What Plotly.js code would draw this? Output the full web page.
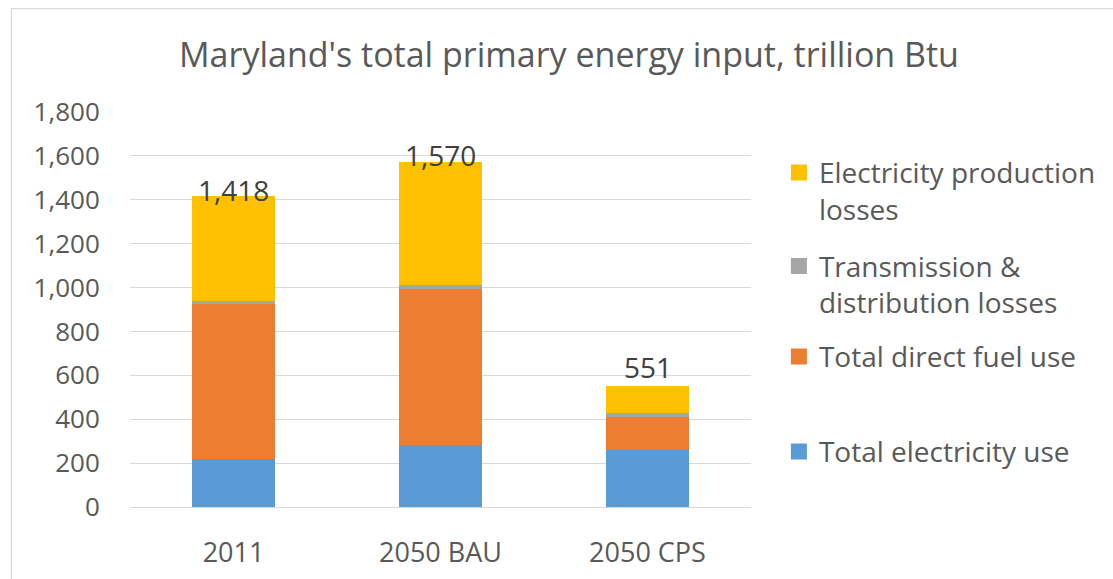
<!DOCTYPE html>
<html><head><meta charset="utf-8">
<script src="https://cdn.plot.ly/plotly-3.0.1.min.js"></script>
<style>html,body{margin:0;padding:0;background:#fff}#chart{width:1113px;height:579px}</style>
</head><body><div id="chart"></div>
<script>
const categories = ['2011', '2050 BAU', '2050 CPS'];
const totalElectricityUse = [219, 284, 261];
const totalDirectFuelUse = [706, 708, 147];
const transmissionLosses = [15, 21, 19];
const productionLosses = [478, 557, 124];
const totals = [1418, 1570, 551];
const seriesNames = ['Total electricity use', 'Total direct fuel use', 'Transmission &<br>distribution losses', 'Electricity production<br>losses'];
const yTickValues = [0, 200, 400, 600, 800, 1000, 1200, 1400, 1600, 1800];

const FONT = '"Open Sans", Lato, sans-serif';
const TXT = '#595959';
const colors = ['#5B9BD5', '#ED7D31', '#A5A5A5', '#FFC000'];
const seriesValues = [totalElectricityUse, totalDirectFuelUse, transmissionLosses, productionLosses];
const legendIds = ['legend4', 'legend3', 'legend2', 'legend'];

const barTraces = seriesValues.map((vals, i) => ({
  type: 'bar', x: categories, y: vals, name: seriesNames[i],
  marker: {color: colors[i]}, showlegend: false
}));
// legend-only entries (larger square swatches)
const legendTraces = seriesValues.map((vals, i) => ({
  type: 'scatter', mode: 'markers', x: [null], y: [null], name: seriesNames[i],
  marker: {color: colors[i], symbol: 'square', size: 16}, legend: legendIds[i], hoverinfo: 'skip'
}));

const labelShift = [6, 7, 19];
const annotations = categories.map((c, i) => ({
  x: i, y: totals[i], xref: 'x', yref: 'y', text: totals[i].toLocaleString('en-US'),
  showarrow: false, yanchor: 'middle', yshift: labelShift[i],
  font: {family: FONT, size: 28, color: '#404040'}
}));

const px2x = p => (p - 130) / 623;
const px2y = p => (507.3 - p) / 395;
function leg(cy) {
  return {x: px2x(781), y: px2y(cy), xanchor: 'left', yanchor: 'middle', valign: 'top',
    bgcolor: 'rgba(0,0,0,0)', font: {family: FONT, size: 28, color: TXT}};
}

const layout = {
  width: 1113, height: 579,
  margin: {l: 130, r: 360, t: 112, b: 71.7, pad: 0},
  paper_bgcolor: '#fff', plot_bgcolor: '#fff',
  barmode: 'stack', bargap: 0.6,
  font: {family: FONT, color: TXT},
  title: {text: "Maryland's total primary energy input, trillion Btu", x: 569 / 1113, xref: 'container', xanchor: 'center',
    y: 1 - 55 / 579, yref: 'container', yanchor: 'middle', font: {family: FONT, size: 34, color: TXT}},
  xaxis: {type: 'category', range: [-0.5, 2.5], showgrid: false, showline: false, zeroline: false,
    ticks: 'outside', ticklen: 22, tickcolor: 'rgba(0,0,0,0)',
    tickfont: {family: FONT, size: 27, color: TXT}},
  yaxis: {range: [0, 1800], tickvals: yTickValues, tickformat: ',d', showgrid: true, gridcolor: '#D9D9D9',
    zeroline: true, zerolinecolor: '#D9D9D9', showline: false,
    ticks: 'outside', ticklen: 24, tickcolor: 'rgba(0,0,0,0)',
    tickfont: {family: FONT, size: 26, color: TXT}},
  legend: leg(191), legend2: leg(284.5), legend3: leg(357), legend4: leg(452),
  annotations: annotations,
  shapes: [{type: 'rect', xref: 'paper', yref: 'paper', x0: px2x(11), x1: px2x(1125), y0: px2y(600), y1: px2y(9),
    line: {color: '#D9D9D9', width: 1.3}, fillcolor: 'rgba(0,0,0,0)', layer: 'below'}],
  showlegend: true
};

Plotly.newPlot('chart', barTraces.concat(legendTraces), layout, {displayModeBar: false});
</script></body></html>
